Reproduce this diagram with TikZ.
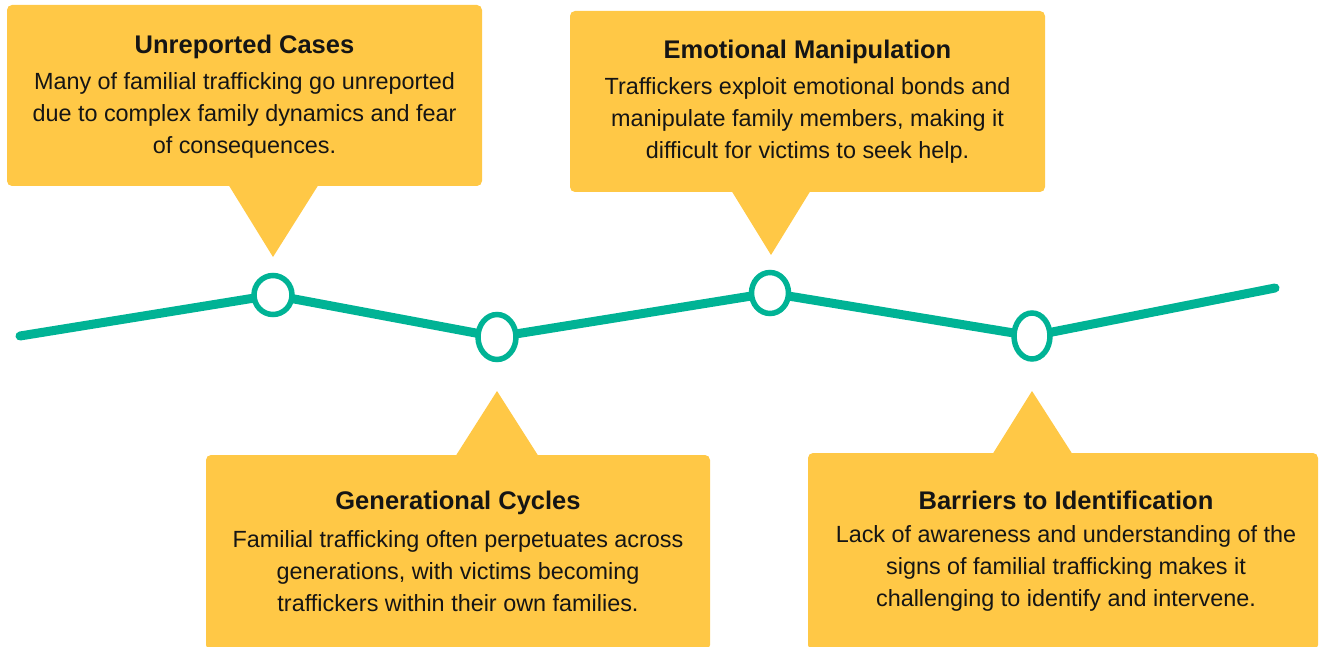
\documentclass[tikz,border=0pt]{standalone}
\usepackage{fontspec}
\setmainfont{Liberation Sans}
\usetikzlibrary{shapes.geometric}
\definecolor{callout}{HTML}{FFC846}
\definecolor{track}{HTML}{00B395}
\definecolor{ink}{HTML}{151515}
\begin{document}
\begin{tikzpicture}[x=1pt,y=-1pt,
  box/.style={fill=callout,rounded corners=5pt,inner sep=0pt,minimum width=#1},
  heading/.style={font=\fontsize{25.5}{30}\selectfont\bfseries,text=ink,inner sep=0pt},
  body/.style={font=\fontsize{23.4}{32}\selectfont,text=ink,align=center,inner sep=0pt},
  milestone/.style={ellipse,draw=track,line width=5.5pt,fill=white,inner sep=0pt},
]
\useasboundingbox (0,0) rectangle (1320,647);

% callout boxes
\node[box=475,minimum height=181] (b1) at (244.5,95.5) {};
\node[box=475,minimum height=181] (b2) at (807.5,101.5) {};
\node[box=504,minimum height=195] (b3) at (458,552.5) {};
\node[box=510,minimum height=197] (b4) at (1063,551.5) {};

% pointers of the callouts
\fill[callout] (228,184) -- (319,184) -- (273,257) -- cycle;
\fill[callout] (731,190) -- (811,190) -- (771,255) -- cycle;
\fill[callout] (455,457) -- (539,457) -- (497,391) -- cycle;
\fill[callout] (992,455) -- (1073,455) -- (1032,391) -- cycle;

% timeline
\coordinate (p0) at (20,336);
\coordinate (p1) at (273,295);
\coordinate (p2) at (497,337);
\coordinate (p3) at (770,293);
\coordinate (p4) at (1032,336);
\coordinate (p5) at (1275,288);
\draw[track,line width=9pt,line cap=round,line join=round]
  (p0) -- (p1) -- (p2) -- (p3) -- (p4) -- (p5);
\node[milestone,minimum width=38,minimum height=39] (m1) at (p1) {};
\node[milestone,minimum width=38,minimum height=45] (m2) at (p2) {};
\node[milestone,minimum width=37,minimum height=41] (m3) at (p3) {};
\node[milestone,minimum width=36,minimum height=46] (m4) at (p4) {};

% texts
\node[heading] (h1) at (244.5,47) {Unreported Cases};
\node[body] (t1) at (244.5,115) {Many of familial trafficking go unreported\\due to complex family dynamics and fear\\of consequences.};

\node[heading] (h2) at (807.5,52) {Emotional Manipulation};
\node[body] (t2) at (807.5,120) {Traffickers exploit emotional bonds and\\manipulate family members, making it\\difficult for victims to seek help.};

\node[heading] (h3) at (458,503) {Generational Cycles};
\node[body] (t3) at (458,571) {Familial trafficking often perpetuates across\\generations, with victims becoming\\traffickers within their own families.};

\node[heading] (h4) at (1066,500) {Barriers to Identification};
\node[body] (t4) at (1066,568.5) {Lack of awareness and understanding of the\\signs of familial trafficking makes it\\challenging to identify and intervene.};
\end{tikzpicture}
\end{document}
